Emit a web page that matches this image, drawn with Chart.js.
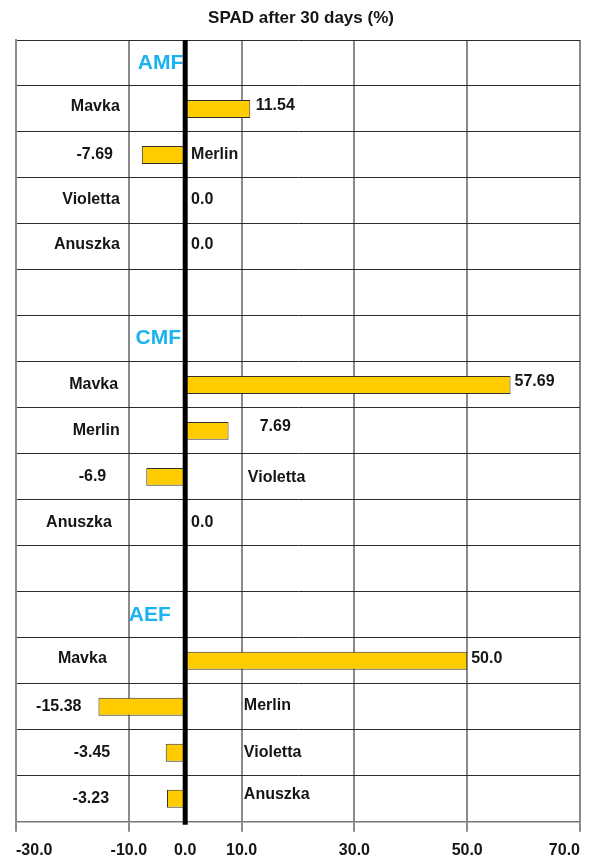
<!DOCTYPE html>
<html><head><meta charset="utf-8">
<script src="https://cdn.jsdelivr.net/npm/chart.js@4.4.1/dist/chart.umd.min.js"></script>
<style>html,body{margin:0;padding:0;background:#fff;} #wrap{width:589px;height:862px;position:relative;}</style>
</head><body><div id="wrap"><canvas id="c"></canvas></div>
<script>
const groups = ['AMF', 'CMF', 'AEF'];
const cultivars = ['Mavka', 'Merlin', 'Violetta', 'Anuszka'];
const amfValues = [11.54, -7.69, 0.0, 0.0];
const cmfValues = [57.69, 7.69, -6.9, 0.0];
const aefValues = [50.0, -15.38, -3.45, -3.23];
const xTickValues = [-30, -10, 0, 10, 30, 50, 70];
const xMin = -30, xMax = 70;
const titleText = 'SPAD after 30 days (%)';

// text placement (x in axis units, alignment, vertical nudge in px)
const headerPlacement = [[-8.4, 0], [-8.8, -1], [-10.0, 0]];
// [nameX, nameAlign, valueX, valueAlign, nameDy, valueDy]
const textPlacement = [
  [-11.6, 'right', 12.5, 'left', -2, -3],
  [1.05, 'left', -12.8, 'right', -0.5, 0],
  [-11.6, 'right', 1.05, 'left', -1, -1],
  [-11.6, 'right', 1.05, 'left', -2, -2],
  [-11.9, 'right', 58.4, 'left', 0, -3.5],
  [-11.6, 'right', 13.2, 'left', 0, -4.5],
  [11.1, 'left', -14.0, 'right', 1, 0],
  [-13.0, 'right', 1.05, 'left', 0, 0],
  [-13.9, 'right', 50.7, 'left', -2.5, -2],
  [10.4, 'left', -18.4, 'right', -1.5, 0],
  [10.4, 'left', -13.3, 'right', 0, 0],
  [10.4, 'left', -13.5, 'right', -4, 0]
];

const seriesByGroup = [amfValues, cmfValues, aefValues];
const rows = [];
groups.forEach((g, gi) => {
  rows.push({ type: 'header', group: g, place: headerPlacement[gi] });
  cultivars.forEach((c, ci) => {
    rows.push({ type: 'item', name: c, value: seriesByGroup[gi][ci], place: textPlacement[gi * 4 + ci] });
  });
  if (gi < groups.length - 1) rows.push({ type: 'blank' });
});
const rowLabels = rows.map((r, i) => 'row' + i);
const barData = rows.map(r => r.type === 'item' ? r.value : null);

const fmt = v => Number.isInteger(v) ? v.toFixed(1) : String(v);
const VGRID = '#8a8a8a';
const HGRID = '#2b2b2b';
const TXT = '#151515';
const FONT = '"Liberation Sans", Arial, sans-serif';

const overlay = {
  id: 'overlay',
  afterDatasetsDraw(chart) {
    const { ctx, chartArea, scales: { x, y } } = chart;
    ctx.save();
    ctx.textBaseline = 'middle';
    rows.forEach((r, i) => {
      const cy = y.getPixelForValue(i);
      if (r.type === 'header') {
        ctx.font = 'bold 21px ' + FONT;
        ctx.fillStyle = '#1AB3EF';
        ctx.textAlign = 'left';
        ctx.fillText(r.group, x.getPixelForValue(r.place[0]), cy + r.place[1]);
      } else if (r.type === 'item') {
        const p = r.place;
        ctx.font = 'bold 16px ' + FONT;
        ctx.fillStyle = TXT;
        ctx.textAlign = p[1];
        ctx.fillText(r.name, x.getPixelForValue(p[0]), cy + p[4]);
        ctx.textAlign = p[3];
        ctx.fillText(fmt(r.value), x.getPixelForValue(p[2]), cy + p[5]);
      }
    });
    const zx = x.getPixelForValue(0);
    ctx.strokeStyle = '#000';
    ctx.lineWidth = 5;
    ctx.beginPath();
    ctx.moveTo(zx, chartArea.top);
    ctx.lineTo(zx, chartArea.bottom + 3);
    ctx.stroke();
    ctx.restore();
  }
};

new Chart(document.getElementById('c'), {
  type: 'bar',
  data: {
    labels: rowLabels,
    datasets: [{
      data: barData,
      backgroundColor: '#FFCC00',
      borderColor: '#333333',
      borderWidth: 1,
      borderSkipped: false,
      categoryPercentage: 1,
      barPercentage: 0.39
    }]
  },
  options: {
    indexAxis: 'y',
    responsive: true,
    maintainAspectRatio: false,
    animation: false,
    layout: { padding: { left: 16, right: 3, top: 0, bottom: -7 } },
    plugins: {
      legend: { display: false },
      tooltip: { enabled: false },
      title: {
        display: true,
        text: titleText,
        color: TXT,
        font: { family: FONT, size: 17, weight: 'bold' },
        padding: { top: 8, bottom: 11.6 }
      }
    },
    scales: {
      x: {
        type: 'linear',
        min: xMin,
        max: xMax,
        afterBuildTicks: s => { s.ticks = xTickValues.map(v => ({ value: v })); },
        grid: {
          color: c => (c.tick && c.tick.value === 0) ? 'rgba(0,0,0,0)' : VGRID,
          tickColor: c => (c.tick && c.tick.value === 0) ? 'rgba(0,0,0,0)' : VGRID,
          lineWidth: 2,
          tickLength: 10
        },
        border: { display: true, color: '#777777', width: 1.5 },
        ticks: {
          align: 'inner',
          padding: 9,
          color: TXT,
          font: { family: FONT, size: 16, weight: 'bold' },
          callback: v => Number(v).toFixed(1)
        }
      },
      y: {
        type: 'category',
        offset: true,
        grid: { offset: true, color: HGRID, lineWidth: 1, drawTicks: false },
        border: { display: true, color: VGRID, width: 2 },
        ticks: { display: false }
      }
    }
  },
  plugins: [overlay]
});
</script>
</body></html>
